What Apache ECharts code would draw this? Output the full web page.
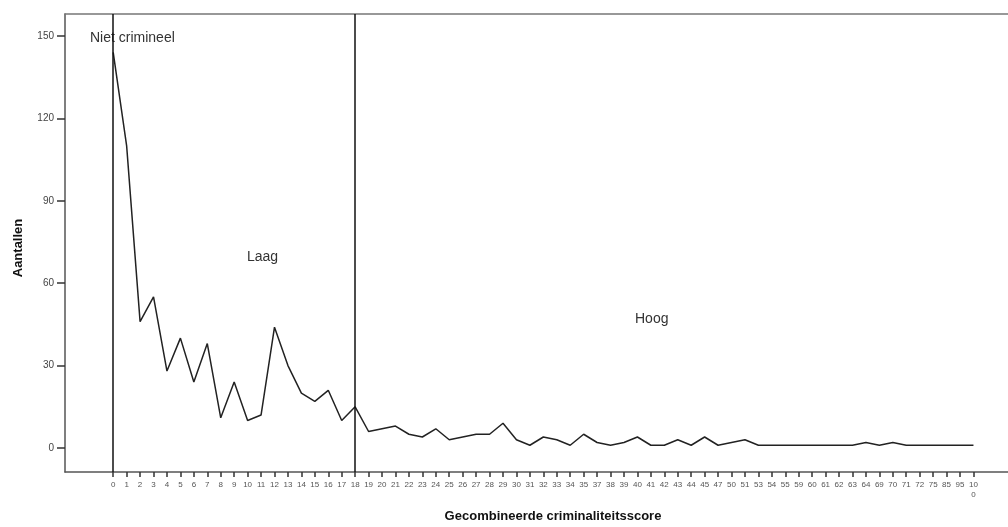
<!DOCTYPE html>
<html><head><meta charset="utf-8">
<script src="https://cdn.jsdelivr.net/npm/echarts@6/dist/echarts.min.js"></script>
<style>html,body{margin:0;padding:0;background:#fff}#c{width:1008px;height:527px}</style>
</head><body><div id="c"></div>
<script>
const categories = ['0','1','2','3','4','5','6','7','8','9','10','11','12','13','14','15','16','17','18','19','20','21','22','23','24','25','26','27','28','29','30','31','32','33','34','35','37','38','39','40','41','42','43','44','45','47','50','51','53','54','55','59','60','61','62','63','64','69','70','71','72','75','85','95','100'];
const counts = [144,110,46,55,28,40,24,38,11,24,10,12,44,30,20,17,21,10,15,6,7,8,5,4,7,3,4,5,5,9,3,1,4,3,1,5,2,1,2,4,1,1,3,1,4,1,2,3,1,1,1,1,1,1,1,1,2,1,2,1,1,1,1,1,1];
const yTicks = [0,30,60,90,120,150];
const boundaries = [0, 18];
const regionLabels = ['Niet crimineel','Laag','Hoog'];

const chart = echarts.init(document.getElementById('c'));
const idx = categories.map((c,i)=>i);
const font = 'Liberation Sans, Arial, sans-serif';
chart.setOption({
  animation:false,
  grid:{left:65,right:-2,top:14,bottom:55},
  xAxis:[{
    type:'value', min:-3.586, max:66.57,
    axisLine:{show:true,onZero:false,lineStyle:{color:'#555',width:1.5}},
    axisTick:{show:true,customValues:idx,length:5,lineStyle:{color:'#333',width:1.5}},
    axisLabel:{customValues:idx,fontSize:8,color:'#555',fontFamily:font,margin:8,lineHeight:10,
      formatter:v=>{const s=categories[Math.round(v)]; return s==='100'?'10\n0':s;}},
    splitLine:{show:false}
  },{
    type:'value', position:'top', min:-3.586, max:66.57,
    axisLine:{show:true,onZero:false,lineStyle:{color:'#777',width:1.5}},
    axisTick:{show:false},axisLabel:{show:false},splitLine:{show:false}
  }],
  yAxis:{
    type:'value', min:-8.74, max:158,
    axisLine:{show:true,onZero:false,lineStyle:{color:'#555',width:1.5}},
    axisTick:{show:true,customValues:yTicks,length:8,lineStyle:{color:'#333',width:1.5}},
    axisLabel:{customValues:yTicks,fontSize:10,color:'#444',fontFamily:font,margin:11},
    splitLine:{show:false}
  },
  series:[{
    type:'line', xAxisIndex:0,
    data:counts.map((v,i)=>[i,v]),
    symbol:'none',
    lineStyle:{color:'#222',width:1.5},
    markLine:{symbol:'none',silent:true,label:{show:false},
      lineStyle:{color:'#111',width:1.5,type:'solid'},
      data:boundaries.map(b=>({xAxis:b}))}
  }],
  graphic:[
    {type:'text',left:90,top:31,style:{text:regionLabels[0],font:'14px '+font,fill:'#333'}},
    {type:'text',left:247,top:250,style:{text:regionLabels[1],font:'14px '+font,fill:'#333'}},
    {type:'text',left:635,top:312,style:{text:regionLabels[2],font:'14px '+font,fill:'#333'}},
    {type:'text',x:553,y:516,style:{text:'Gecombineerde criminaliteitsscore',font:'bold 13px '+font,fill:'#111',align:'center',verticalAlign:'middle'}},
    {type:'text',x:18,y:248,rotation:Math.PI/2,style:{text:'Aantallen',font:'bold 13px '+font,fill:'#111',align:'center',verticalAlign:'middle'}}
  ]
});
</script></body></html>
